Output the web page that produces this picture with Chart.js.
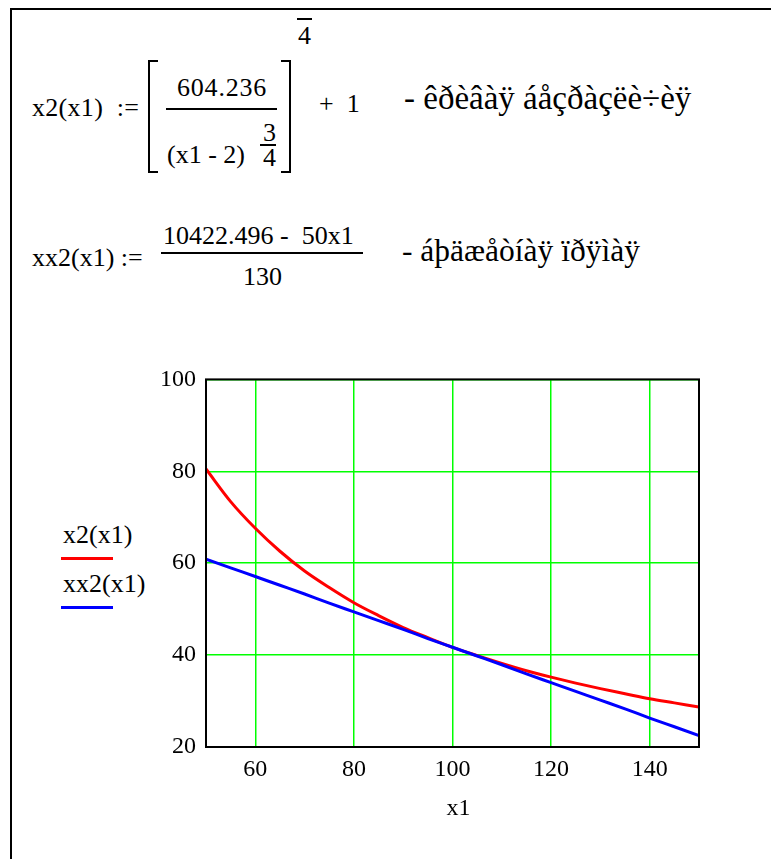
<!DOCTYPE html>
<html><head><meta charset="utf-8">
<script src="https://cdn.jsdelivr.net/npm/chart.js@4/dist/chart.umd.min.js"></script>
<style>
html,body{margin:0;padding:0;background:#fff}
body{width:771px;height:859px;position:relative;overflow:hidden;font-family:"Liberation Serif","Tinos","Times New Roman","DejaVu Serif",serif;color:#000}
.t{position:absolute;line-height:1;white-space:nowrap;font-size:26px}
.b{position:absolute;background:#000}
#frame{position:absolute;left:10px;top:8px;width:780px;height:870px;border-left:2px solid #000;border-top:2px solid #000}
.brk{position:absolute;top:60px;width:8px;height:109px;border:2px solid #000}
#wrap{position:absolute;left:100px;top:355px;width:640px;height:490px}
</style></head>
<body>
<div id="frame"></div>
<!-- formula 1 -->
<span class="t" style="left:32px;top:95px;letter-spacing:0.3px">x2(x1)&nbsp;&nbsp;:=</span>
<div class="brk" style="left:148px;border-right:none"></div>
<span class="t" style="left:177px;top:75px;letter-spacing:0.8px">604.236</span>
<div class="b" style="left:166px;top:108px;width:111px;height:2px"></div>
<span class="t" style="left:167px;top:142px">(x1 - 2)</span>
<span class="t" style="left:263px;top:120px">3</span>
<div class="b" style="left:260px;top:144px;width:16px;height:2px"></div>
<span class="t" style="left:263px;top:145px">4</span>
<div class="brk" style="left:281px;border-left:none"></div>
<div class="b" style="left:297px;top:18px;width:15px;height:2px"></div>
<span class="t" style="left:298px;top:23px">4</span>
<span class="t" style="left:319px;top:91px">+&nbsp;&nbsp;1</span>
<span class="t" style="left:404px;top:82px;font-size:33px">- êðèâàÿ áåçðàçëè÷èÿ</span>
<!-- formula 2 -->
<span class="t" style="left:32px;top:245px">xx2(x1)&nbsp;:=</span>
<span class="t" style="left:163px;top:223px">10422.496 -&nbsp;&nbsp;50x1</span>
<div class="b" style="left:161px;top:252px;width:202px;height:2px"></div>
<span class="t" style="left:243px;top:264px">130</span>
<span class="t" style="left:402px;top:235px;font-size:31.5px">- áþäæåòíàÿ ïðÿìàÿ</span>
<!-- legend -->
<span class="t" style="left:63px;top:522px;font-size:26px">x2(x1)</span>
<div class="b" style="left:61px;top:557px;width:52px;height:3px;background:#f00"></div>
<span class="t" style="left:63px;top:571px;font-size:26px">xx2(x1)</span>
<div class="b" style="left:61px;top:606px;width:52px;height:3px;background:#00f"></div>
<div id="wrap"><canvas id="c"></canvas></div>
<script>
// x1 samples and the two curves
const X1=[50,55,60,65,70,75,80,85,90,95,100,105,110,115,120,125,130,135,140,145,150];
const X2=[80.5,73.4,67.6,62.6,58.3,54.7,51.4,48.6,46.0,43.8,41.7,39.9,38.2,36.6,35.2,33.9,32.7,31.6,30.5,29.6,28.7];
const XX2=[60.9,59.0,57.1,55.2,53.3,51.3,49.4,47.5,45.6,43.6,41.7,39.8,37.9,35.9,34.0,32.1,30.2,28.3,26.3,24.4,22.5];
const XT=[60,80,100,120,140],YT=[20,40,60,80,100];
const FNT={family:'"Liberation Serif","Tinos","Times New Roman","DejaVu Serif",serif',size:24};
const GRN='#00ff00';
function pts(ys){return X1.map(function(x,i){return{x:x,y:ys[i]}})}
// black box round the plot area
const box={id:'box',afterDatasetsDraw:function(ch){
 var a=ch.chartArea,c=ch.ctx;c.save();c.strokeStyle='#000';c.lineWidth=2;
 c.strokeRect(a.left,a.top,a.right-a.left,a.bottom-a.top);c.restore()}};
new Chart(document.getElementById('c'),{
 type:'line',
 data:{datasets:[
  {label:'xx2(x1)',data:pts(XX2),borderColor:'#0000ff',borderWidth:3,pointRadius:0,order:0,cubicInterpolationMode:'monotone'},
  {label:'x2(x1)',data:pts(X2),borderColor:'#ff0000',borderWidth:3,pointRadius:0,order:1,cubicInterpolationMode:'monotone'}
 ]},
 options:{responsive:true,maintainAspectRatio:false,animation:false,
  layout:{padding:{left:0,right:41,top:24,bottom:0}},
  plugins:{legend:{display:false},tooltip:{enabled:false}},
  scales:{
   x:{type:'linear',min:50,max:150,
    afterBuildTicks:function(s){s.ticks=XT.map(function(v){return{value:v}})},
    afterFit:function(s){s.height=98},
    grid:{color:GRN,lineWidth:1.5,drawTicks:false},border:{display:false},
    ticks:{color:'#000',font:FNT,padding:8,maxRotation:0},
    title:{display:true,text:'\u00a0\u00a0x1',color:'#000',font:FNT,padding:{top:0,bottom:22}}},
   y:{min:20,max:100,
    afterBuildTicks:function(s){s.ticks=YT.map(function(v){return{value:v}})},
    afterFit:function(s){s.width=106},
    grid:{color:GRN,lineWidth:1.5,drawTicks:false},border:{display:false},
    ticks:{color:'#000',font:FNT,padding:10}}
  }},
 plugins:[box]
});
</script>
</body></html>
